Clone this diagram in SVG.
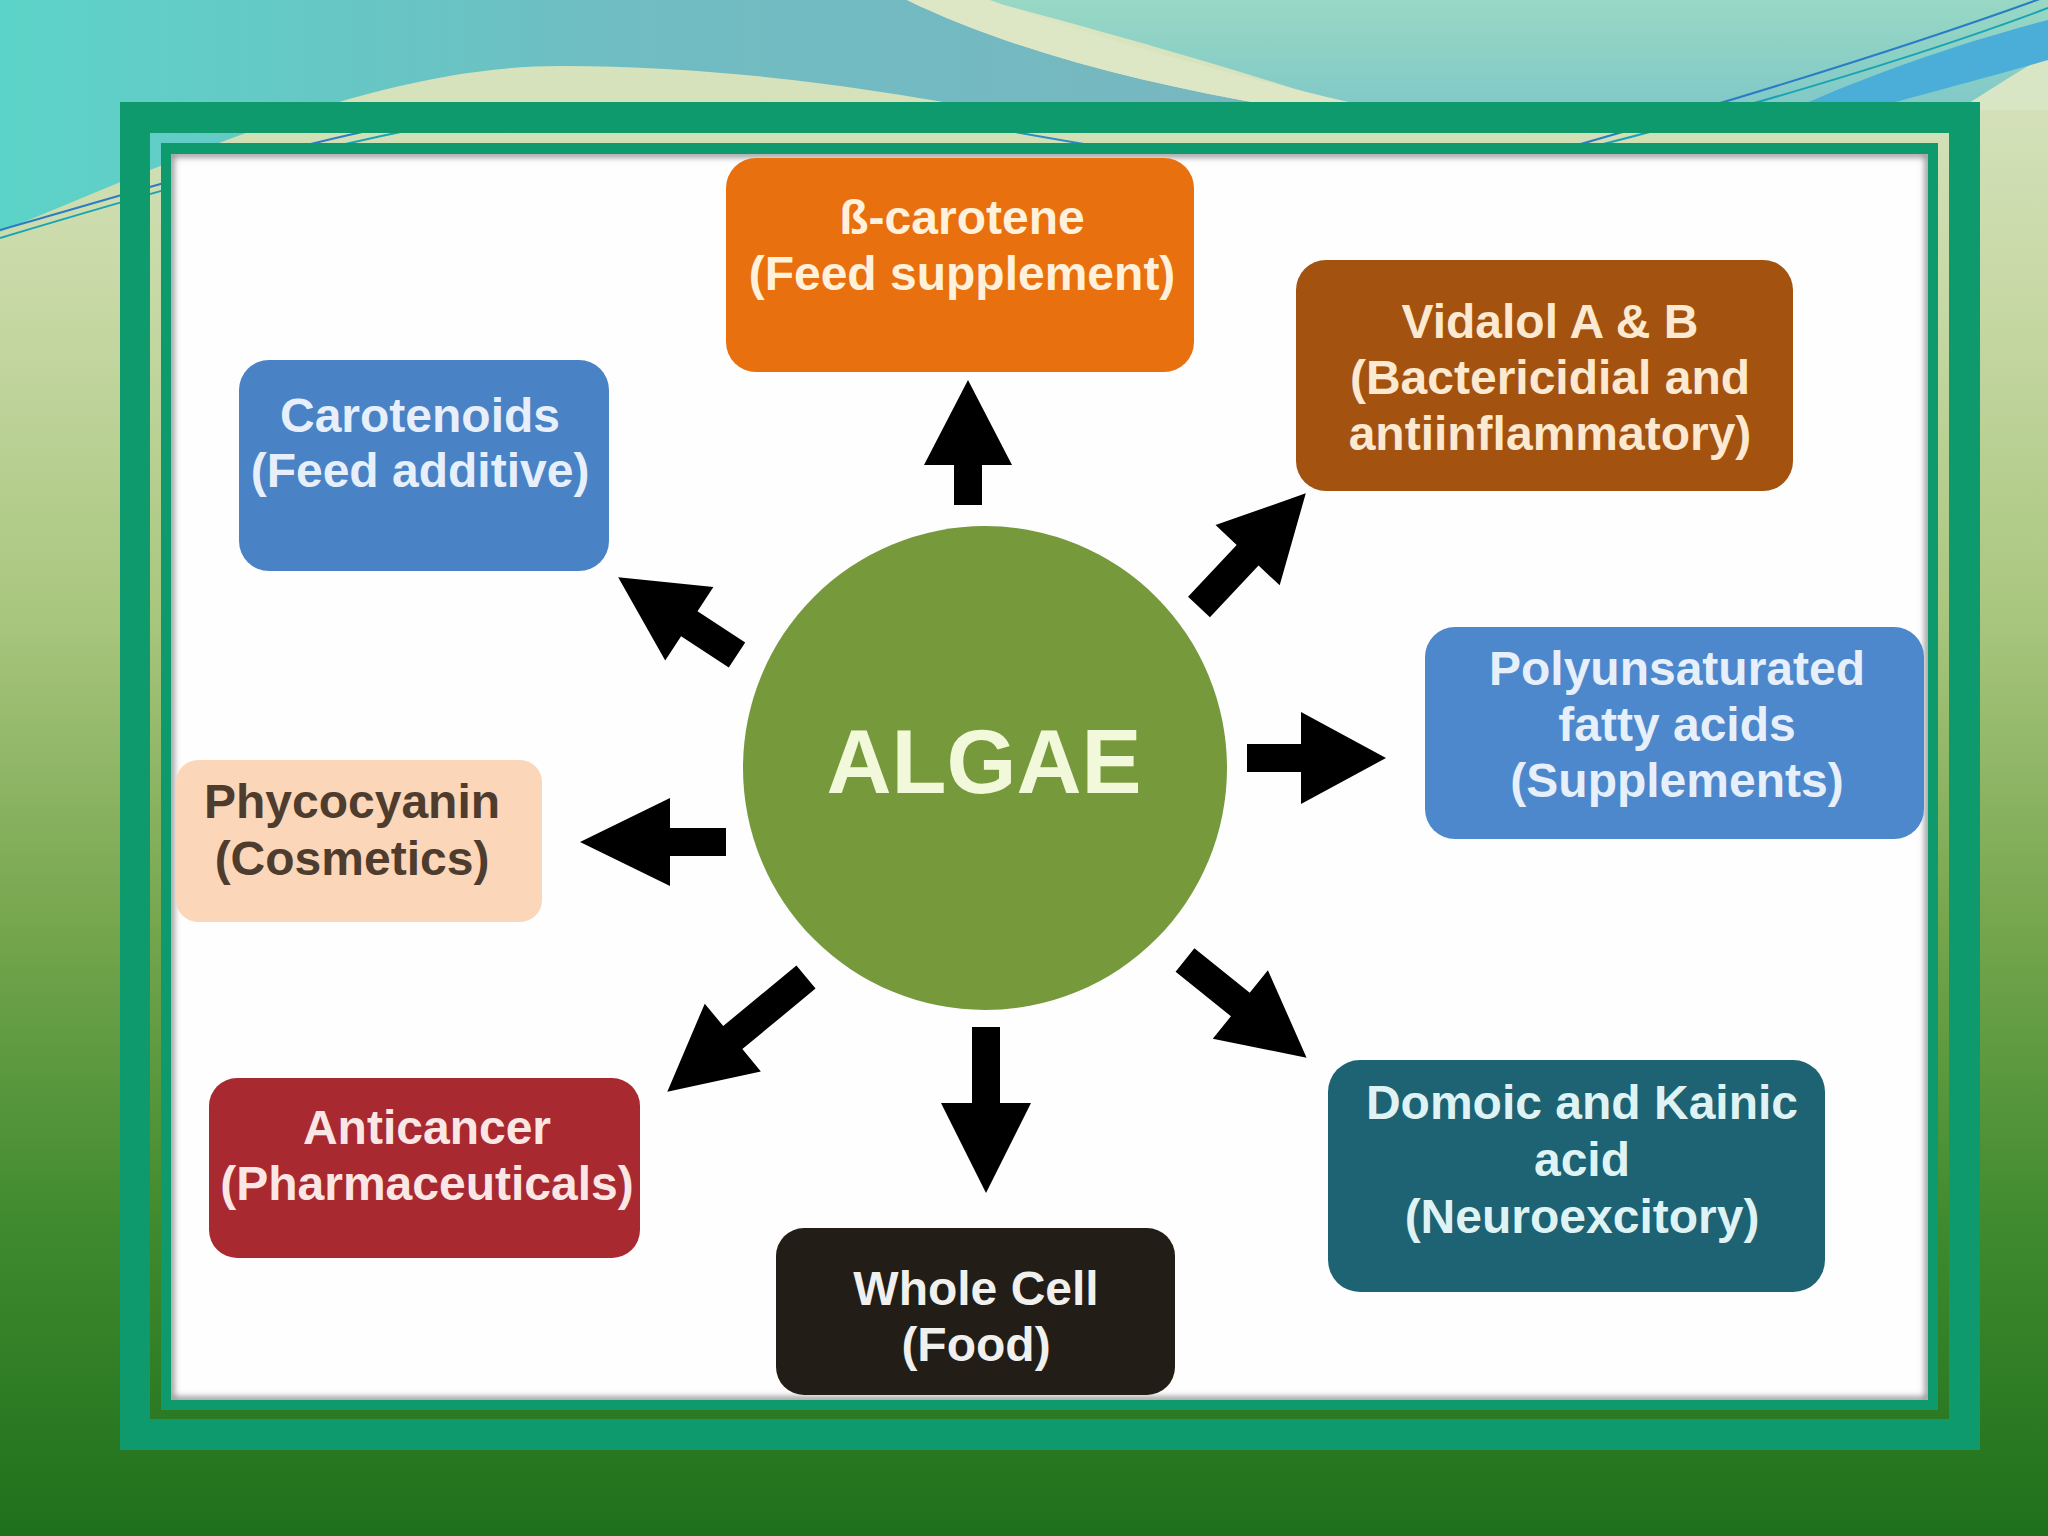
<svg xmlns="http://www.w3.org/2000/svg" width="2048" height="1536" viewBox="0 0 2048 1536">
  <defs>
    <linearGradient id="bgV" x1="0" y1="0" x2="0" y2="1">
      <stop offset="0" stop-color="#dbe6c4"/>
      <stop offset="0.2" stop-color="#c6d8a4"/>
      <stop offset="0.4" stop-color="#a9c67e"/>
      <stop offset="0.6" stop-color="#76a64e"/>
      <stop offset="0.8" stop-color="#3f8a2e"/>
      <stop offset="1" stop-color="#1f701c"/>
    </linearGradient>
    <linearGradient id="tealH" x1="0" y1="0" x2="1" y2="0">
      <stop offset="0" stop-color="#5cd3c8"/>
      <stop offset="0.5" stop-color="#70bcc2"/>
      <stop offset="1" stop-color="#78b6c0"/>
    </linearGradient>
    <linearGradient id="lightTeal" x1="0" y1="0" x2="0" y2="1">
      <stop offset="0" stop-color="#98d8c4"/>
      <stop offset="1" stop-color="#80c8c8"/>
    </linearGradient>
    <filter id="soft" x="-5%" y="-5%" width="110%" height="110%">
      <feGaussianBlur stdDeviation="3"/>
    </filter>
    <clipPath id="whiteClip">
      <rect x="171" y="154" width="1757" height="1246"/>
    </clipPath>
    <style>
      .lbl { font-family: "Liberation Sans", Arial, sans-serif; font-weight: bold; font-size: 48px; text-anchor: middle; }
      .box { stroke: none; }
      .arrow { fill: #000000; }
      .thin { fill: none; stroke-width: 2; }
    </style>
  </defs>

  <!-- Background -->
  <g id="background">
    <rect x="0" y="0" width="2048" height="1536" fill="url(#bgV)"/>
    <path d="M985,0 H2048 V110 H1360 C1240,70 1100,30 985,0 Z" fill="url(#lightTeal)"/>
    <path d="M1958,110 C1990,90 2020,70 2048,55 V110 Z" fill="#d8e6c6"/>
    <path d="M1790,110 C1880,70 1970,40 2048,20 V60 C1980,80 1900,100 1850,115 Z" fill="#4aaed8"/>
    <path d="M0,0 H907 C1020,55 1170,90 1310,112 L1000,112 C880,90 730,66 561,66 C380,66 200,150 0,232 Z" fill="url(#tealH)"/>
    <path d="M907,0 H990 C1100,40 1250,80 1392,112 H1310 C1170,90 1020,55 907,0 Z" fill="#dde7c6"/>
    <path class="thin" d="M0,238 C110,205 260,160 420,128" stroke="#18a4b4"/>
    <path class="thin" d="M0,230 C120,196 270,150 400,124" stroke="#2a7cc4" stroke-width="1.5"/>
    <path class="thin" d="M940,118 C1000,130 1060,140 1120,150" stroke="#2a8cc4" stroke-width="1.5"/>
    <path class="thin" d="M2048,-4 C1900,50 1700,110 1560,150" stroke="#2a7cc4" stroke-width="1.5"/>
    <path class="thin" d="M2048,8 C1910,60 1720,115 1580,150" stroke="#18a4b4"/>
  </g>

  <!-- Frame -->
  <g id="frame">
    <path d="M120,102 H1980 V1450 H120 Z M150,133 V1419 H1949 V133 Z" fill="#0f9a6e" fill-rule="evenodd"/>
    <rect x="161" y="143" width="1777" height="267" fill="#0f9a6e"/>
    <rect x="161" y="143" width="1777" height="1267" fill="#0f9a6e"/>
    <rect x="171" y="154" width="1757" height="1246" fill="#fefefe"/>
    <g clip-path="url(#whiteClip)">
      <rect x="171" y="154" width="1757" height="1246" fill="none" stroke="#8a8a8a" stroke-width="6" filter="url(#soft)"/>
    </g>
  </g>

  <!-- Connectors -->
  <g id="connectors" class="arrow">
    <path id="arrow-up" transform="translate(968,505) rotate(-90)" d="M0,-14 H40 V-44 L125,0 L40,44 V14 H0 Z"/>
    <path id="arrow-ne" transform="translate(1199,607) rotate(-46.8)" d="M0,-15 H71 V-44 L156,0 L71,44 V15 H0 Z"/>
    <path id="arrow-nw" transform="translate(737,655) rotate(-146.8)" d="M0,-15 H57 V-44 L142,0 L57,44 V15 H0 Z"/>
    <path id="arrow-right" transform="translate(1247,758) rotate(0)" d="M0,-14 H54 V-46 L139,0 L54,46 V14 H0 Z"/>
    <path id="arrow-left" transform="translate(726,842) rotate(180)" d="M0,-14 H56 V-44 L146,0 L56,44 V14 H0 Z"/>
    <path id="arrow-sw" transform="translate(806,977) rotate(140.4)" d="M0,-15 H95 V-44 L180,0 L95,44 V15 H0 Z"/>
    <path id="arrow-down" transform="translate(986,1027) rotate(90)" d="M0,-14 H76 V-45 L166,0 L76,45 V14 H0 Z"/>
    <path id="arrow-se" transform="translate(1185,960) rotate(38.8)" d="M0,-15 H71 V-44 L156,0 L71,44 V15 H0 Z"/>
  </g>

  <!-- Nodes -->
  <g id="node-algae">
    <circle cx="985" cy="768" r="242" fill="#76993c"/>
    <text x="984" y="793" font-family="Liberation Sans, Arial, sans-serif" font-weight="bold" font-size="90" text-anchor="middle" fill="#f2f8da">ALGAE</text>
  </g>

  <g id="node-bcarotene">
    <rect class="box" x="726" y="158" width="468" height="214" rx="30" fill="#e9700f"/>
    <text class="lbl" fill="#fff1dc"><tspan x="962" y="234">ß-carotene</tspan><tspan x="962" y="290">(Feed supplement)</tspan></text>
  </g>

  <g id="node-vidalol">
    <rect class="box" x="1296" y="260" width="497" height="231" rx="30" fill="#a4520f"/>
    <text class="lbl" fill="#fbe9d2"><tspan x="1550" y="338">Vidalol A &amp; B</tspan><tspan x="1550" y="394">(Bactericidial and</tspan><tspan x="1550" y="450">antiinflammatory)</tspan></text>
  </g>

  <g id="node-carotenoids">
    <rect class="box" x="239" y="360" width="370" height="211" rx="30" fill="#4a82c6"/>
    <text class="lbl" fill="#e6effa"><tspan x="420" y="432">Carotenoids</tspan><tspan x="420" y="487">(Feed additive)</tspan></text>
  </g>

  <g id="node-pufa">
    <rect class="box" x="1425" y="627" width="499" height="212" rx="30" fill="#4d88cc"/>
    <text class="lbl" fill="#e6effa"><tspan x="1677" y="685">Polyunsaturated</tspan><tspan x="1677" y="741">fatty acids</tspan><tspan x="1677" y="797">(Supplements)</tspan></text>
  </g>

  <g id="node-phycocyanin">
    <rect class="box" x="176" y="760" width="366" height="162" rx="22" fill="#fbd6b8"/>
    <text class="lbl" fill="#4e3c2e"><tspan x="352" y="818">Phycocyanin</tspan><tspan x="352" y="875">(Cosmetics)</tspan></text>
  </g>

  <g id="node-anticancer">
    <rect class="box" x="209" y="1078" width="431" height="180" rx="28" fill="#a82a30"/>
    <text class="lbl" fill="#fbe6e6"><tspan x="427" y="1144">Anticancer</tspan><tspan x="427" y="1200">(Pharmaceuticals)</tspan></text>
  </g>

  <g id="node-wholecell">
    <rect class="box" x="776" y="1228" width="399" height="167" rx="28" fill="#221d16"/>
    <text class="lbl" fill="#f0f0ee"><tspan x="976" y="1305">Whole Cell</tspan><tspan x="976" y="1361">(Food)</tspan></text>
  </g>

  <g id="node-domoic">
    <rect class="box" x="1328" y="1060" width="497" height="232" rx="32" fill="#1d6373"/>
    <text class="lbl" fill="#dff3f4"><tspan x="1582" y="1119">Domoic and Kainic</tspan><tspan x="1582" y="1176">acid</tspan><tspan x="1582" y="1233">(Neuroexcitory)</tspan></text>
  </g>
</svg>
